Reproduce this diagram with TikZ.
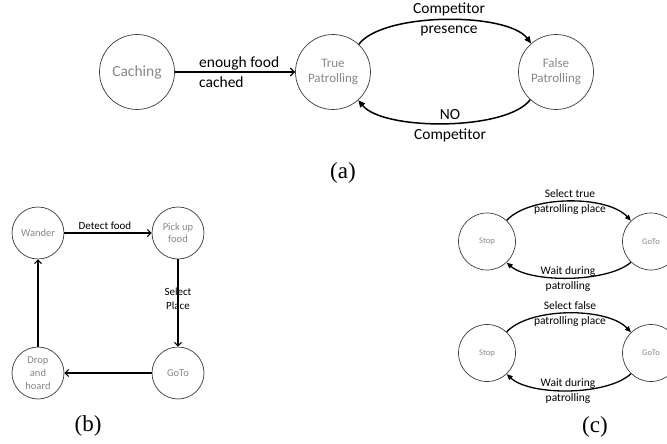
\documentclass[tikz,border=0pt]{standalone}
\usepackage{fontspec}
\setmainfont{Carlito}
\newfontfamily\capfont{Liberation Serif}
\usetikzlibrary{arrows.meta}
\definecolor{nodegray}{RGB}{135,135,135}
\definecolor{ringgray}{RGB}{60,60,60}
\tikzset{
  state/.style={circle, draw=ringgray, line width=0.7pt, inner sep=0pt, align=center, text=nodegray},
  sa/.style={state, minimum size=75pt, font=\fontsize{13}{15}\selectfont},
  sb/.style={state, minimum size=52pt, font=\fontsize{10.5}{12.7}\selectfont},
  sc/.style={state, minimum size=57pt, font=\fontsize{8.5}{10}\selectfont},
  arcarrow/.style={line width=1.5pt, -{Triangle[length=7pt,width=6pt]}},
  arcarrowc/.style={line width=1.3pt, -{Triangle[length=6pt,width=5pt]}},
  openarrow/.style={line width=1.3pt, -{Straight Barb[length=4pt,width=8pt]}},
  openarrowb/.style={line width=1.1pt, -{Straight Barb[length=3.5pt,width=7pt]}},
  lbla/.style={align=center, inner sep=0pt, text=black, font=\fontsize{15.5}{20}\selectfont},
  lblb/.style={align=center, inner sep=0pt, text=black, font=\fontsize{11}{14}\selectfont},
  lblc/.style={align=center, inner sep=0pt, text=black, font=\fontsize{11.5}{14.5}\selectfont},
  captext/.style={font=\capfont\fontsize{23}{26}\selectfont, inner sep=0pt},
}
\begin{document}
\begin{tikzpicture}[x=1pt,y=1pt]
\useasboundingbox (0,0) rectangle (667,-444);
% ---------- (a)
\node[sa, font=\fontsize{15.5}{18}\selectfont] (C) at (137,-72) {Caching};
\node[sa] (T) at (333,-72) {True\\Patrolling};
\node[sa] (F) at (556,-72) {False\\Patrolling};
\draw[openarrow] (C) -- (T);
\node[lbla, anchor=west, align=left] (l1) at (199,-72) {enough food\\cached};
\draw[arcarrow] (T.47) .. controls (383,-12) and (507,-12) .. (F.131);
\draw[arcarrow] (F.-133) .. controls (507,-131) and (383,-131) .. (T.-48);
\node[lbla] (l2) at (449,-19) {Competitor\\presence};
\node[lbla] (l3) at (450,-126) {NO\\Competitor};
\node[captext] (ca) at (343,-173) {(a)};
% ---------- (b)
\node[sb] (W) at (38,-233) {Wander};
\node[sb] (P) at (178,-233) {Pick up\\food};
\node[sb] (G) at (178,-373) {GoTo};
\node[sb] (D) at (38,-373) {Drop\\and\\hoard};
\draw[openarrowb] (W) -- (P);
\draw[openarrowb] (P) -- (G);
\draw[openarrowb] (G) -- (D);
\draw[openarrowb] (D) -- (W);
\node[lblb] (l4) at (105,-226) {Detect food};
\node[lblb] (l5) at (178,-299) {Select\\Place};
\node[captext] (cb) at (88,-426) {(b)};
% ---------- (c)
\node[sc] (S1) at (487,-241.5) {Stop};
\node[sc] (G1) at (651,-241.5) {GoTo};
\node[sc] (S2) at (487,-353) {Stop};
\node[sc] (G2) at (651,-353) {GoTo};
\draw[arcarrowc] (S1.47) .. controls (530,-195) and (607,-195) .. (G1.134);
\draw[arcarrowc] (G1.-134) .. controls (607,-283) and (530,-283) .. (S1.-47);
\draw[arcarrowc] (S2.47) .. controls (530,-307) and (607,-307) .. (G2.134);
\draw[arcarrowc] (G2.-134) .. controls (607,-396) and (530,-396) .. (S2.-47);
\node[lblc] (l6) at (570,-202) {Select true\\patrolling place};
\node[lblc] (l7) at (568,-279) {Wait during\\patrolling};
\node[lblc] (l8) at (570,-314) {Select false\\patrolling place};
\node[lblc] (l9) at (568,-391) {Wait during\\patrolling};
\node[captext] (cc) at (595,-427) {(c)};
\end{tikzpicture}
\end{document}
